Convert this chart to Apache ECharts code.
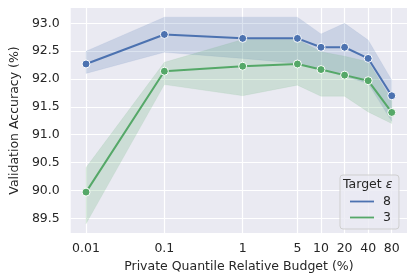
<!DOCTYPE html>
<html><head><meta charset="utf-8">
<script src="https://cdn.jsdelivr.net/npm/echarts@6/dist/echarts.min.js"></script>
<style>html,body{margin:0;padding:0;background:#fff}#c{width:415px;height:279px}</style>
</head><body><div id="c"></div>
<script>
const budgets = [0.01, 0.1, 1, 5, 10, 20, 40, 80];
const xTicks = [0.01, 0.1, 1, 5, 10, 20, 40, 80];
const yTicks = [89.5, 90.0, 90.5, 91.0, 91.5, 92.0, 92.5, 93.0];
const acc8 = [92.27, 92.80, 92.73, 92.73, 92.57, 92.57, 92.37, 91.70];
const lo8  = [92.10, 92.48, 92.37, 92.28, 92.16, 92.05, 91.92, 91.24];
const hi8  = [92.50, 93.11, 93.11, 93.11, 92.81, 93.00, 92.70, 91.98];
const acc3 = [89.97, 92.14, 92.23, 92.27, 92.17, 92.07, 91.97, 91.40];
const lo3  = [89.40, 91.90, 91.70, 91.89, 91.69, 91.69, 91.41, 91.20];
const hi3  = [90.41, 92.30, 92.71, 92.71, 92.49, 92.41, 92.31, 91.62];

const BLUE = '#4c72b0', GREEN = '#55a868', TXT = '#262626';
const FONT = 'DejaVu Sans', FS = 12.5;
const pairs = (ys) => budgets.map((x, i) => [x, ys[i]]);

function band(name, lo, hi, color) {
  return {
    name: name, type: 'custom', z: 1, silent: true,
    data: budgets.map((x, i) => [x, lo[i], hi[i]]),
    encode: { x: 0, y: [1, 2] },
    renderItem: function (params, api) {
      if (params.dataIndex !== 0) return null;
      const pts = [];
      for (let i = 0; i < budgets.length; i++) pts.push(api.coord([budgets[i], hi[i]]));
      for (let i = budgets.length - 1; i >= 0; i--) pts.push(api.coord([budgets[i], lo[i]]));
      return {
        type: 'polygon', shape: { points: pts },
        style: { fill: color, opacity: 0.2, stroke: color, lineWidth: 1, strokeOpacity: 0.4 }
      };
    }
  };
}

const chart = echarts.init(document.getElementById('c'), null, { renderer: 'canvas' });
chart.setOption({
  animation: false,
  textStyle: { fontFamily: FONT },
  grid: { left: 60, right: 8, top: 8, bottom: 46, show: true, backgroundColor: '#eaeaf2', borderWidth: 0 },
  xAxis: {
    type: 'log', logBase: 10, min: 0.00638, max: 125.3,
    name: 'Private Quantile Relative Budget (%)', nameLocation: 'middle', nameGap: 26,
    nameTextStyle: { fontFamily: FONT, fontSize: FS, color: TXT },
    axisLine: { show: false }, axisTick: { show: false, customValues: xTicks },
    axisLabel: { customValues: xTicks, fontFamily: FONT, fontSize: FS, color: TXT, margin: 9,
      formatter: v => String(+v.toPrecision(6)) },
    splitLine: { show: true, lineStyle: { color: '#ffffff', width: 1.2 } }
  },
  yAxis: {
    type: 'value', min: 89.236, max: 93.275,
    name: 'Validation Accuracy (%)', nameLocation: 'middle', nameGap: 42,
    nameTextStyle: { fontFamily: FONT, fontSize: FS, color: TXT },
    axisLine: { show: false }, axisTick: { show: false, customValues: yTicks },
    axisLabel: { customValues: yTicks, fontFamily: FONT, fontSize: FS, color: TXT, margin: 11,
      formatter: v => (+v).toFixed(1) },
    splitLine: { show: true, lineStyle: { color: '#ffffff', width: 1.2 } }
  },
  legend: {
    data: [
      { name: '8', itemStyle: { color: BLUE, borderWidth: 0 } },
      { name: '3', itemStyle: { color: GREEN, borderWidth: 0 } }
    ],
    orient: 'vertical', left: 340, top: 175,
    padding: [20, 8, 5, 10], itemGap: 3,
    backgroundColor: 'rgba(234,234,242,0.8)', borderColor: '#cfcfcf', borderWidth: 1, borderRadius: 3,
    icon: 'rect', itemWidth: 24, itemHeight: 1.8,
    textStyle: { fontFamily: FONT, fontSize: FS, color: TXT, padding: [0, 0, 0, 4] }
  },
  graphic: [{
    type: 'text', left: 343, top: 178, z: 100,
    style: {
      text: '{a|Target }{b|ε}',
      rich: {
        a: { fontFamily: FONT, fontSize: FS, fill: TXT, color: TXT },
        b: { fontFamily: FONT, fontSize: FS, fill: TXT, color: TXT, fontStyle: 'italic' }
      }
    }
  }],
  series: [
    band('b8', lo8, hi8, BLUE),
    band('b3', lo3, hi3, GREEN),
    { name: '8', type: 'line', data: pairs(acc8), color: BLUE, symbol: 'circle', symbolSize: 8,
      lineStyle: { color: BLUE, width: 2 }, itemStyle: { color: BLUE, borderColor: '#fff', borderWidth: 1 }, z: 3 },
    { name: '3', type: 'line', data: pairs(acc3), color: GREEN, symbol: 'circle', symbolSize: 8,
      lineStyle: { color: GREEN, width: 2 }, itemStyle: { color: GREEN, borderColor: '#fff', borderWidth: 1 }, z: 3 }
  ]
});
</script></body></html>
